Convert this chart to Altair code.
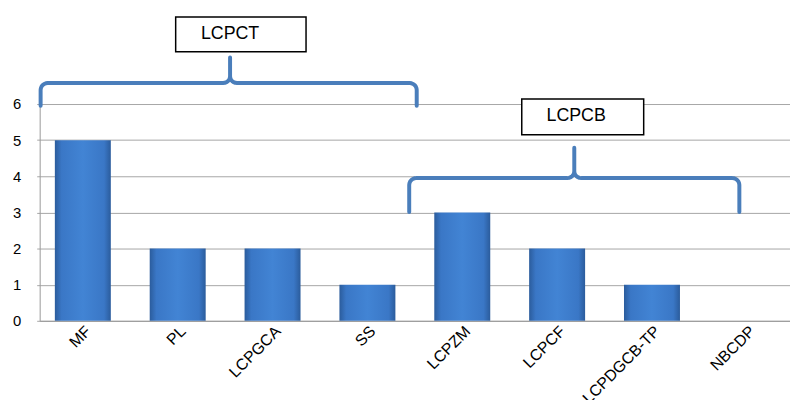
import math
import altair as alt
import pandas as pd

# ---- data ----
categories = ["MF", "PL", "LCPGCA", "SS", "LCPZM", "LCPCF", "LCPDGCB-TP", "NBCDP"]
values = [5, 2, 2, 1, 3, 2, 1, 0]

# group annotations (in category-index units along x, value units along y)
group_names = ["LCPCT", "LCPCB"]
group_x_start = [0.01, 3.94]
group_x_end = [4.02, 7.46]
group_x_mid = [2.03, 5.70]
group_y_end = [5.95, 3.01]
group_y_bar = [6.58, 3.95]
group_y_tip = [7.29, 4.79]
box_x1 = [1.45, 5.14]
box_x2 = [2.84, 6.44]
box_y1 = [7.45, 5.15]
box_y2 = [8.41, 6.14]
label_x = [2.03, 5.72]
label_y = [7.93, 5.68]

bars = pd.DataFrame({"cat": categories, "val": values})

# brace outlines
rx, ry = 0.075, 0.19
rows = []
for g in range(len(group_names)):
    x0, x1, xm = group_x_start[g], group_x_end[g], group_x_mid[g]
    ye, yb, yt = group_y_end[g], group_y_bar[g], group_y_tip[g]
    pts = [(x0, ye)]
    for a in range(180, 89, -15):
        r = math.radians(a)
        pts.append((x0 + rx + rx * math.cos(r), yb - ry + ry * math.sin(r)))
    for a in range(270, 361, 15):
        r = math.radians(a)
        pts.append((xm - rx + rx * math.cos(r), yb + ry + ry * math.sin(r)))
    pts.append((xm, yt))
    for a in range(180, 271, 15):
        r = math.radians(a)
        pts.append((xm + rx + rx * math.cos(r), yb + ry + ry * math.sin(r)))
    for a in range(90, -1, -15):
        r = math.radians(a)
        pts.append((x1 - rx + rx * math.cos(r), yb - ry + ry * math.sin(r)))
    pts.append((x1, ye))
    for i, (px, py) in enumerate(pts):
        rows.append({"g": group_names[g], "i": i, "x": px, "y": py})
braces = pd.DataFrame(rows)

boxes = pd.DataFrame({
    "g": group_names, "x1": box_x1, "x2": box_x2, "y1": box_y1, "y2": box_y2,
    "lx": label_x, "ly": label_y,
})

yscale = alt.Scale(domain=[0, 6], nice=False)
xq = alt.Scale(domain=[0, 8], nice=False, zero=False)
yaxis = alt.Axis(values=[0, 1, 2, 3, 4, 5, 6], grid=True, gridColor="#a6a6a6",
                 domainColor="#999999", tickColor="#a6a6a6", tickSize=3,
                 labelFontSize=15, labelColor="black", labelFont="Liberation Sans",
                 labelPadding=16, title=None)

bar_fill = alt.Gradient(
    gradient="linear", x1=0, x2=1, y1=0, y2=0,
    stops=[
        alt.GradientStop(color="#2b5c9c", offset=0),
        alt.GradientStop(color="#3a77c6", offset=0.12),
        alt.GradientStop(color="#4284d4", offset=0.5),
        alt.GradientStop(color="#3a77c6", offset=0.88),
        alt.GradientStop(color="#2b5c9c", offset=1),
    ],
)

bar_layer = alt.Chart(bars).mark_bar(fill=bar_fill, strokeWidth=0).encode(
    x=alt.X("cat:N", sort=categories, title=None,
            scale=alt.Scale(paddingInner=0.41, paddingOuter=0.16),
            axis=alt.Axis(labelAngle=-45, labelFontSize=16, labelColor="black",
                          labelFont="Liberation Sans", ticks=False, domainColor="#999999",
                          labelAlign="right", labelBaseline="top",
                          labelPadding=2, grid=False)),
    y=alt.Y("val:Q", scale=yscale, title=None, axis=yaxis),
)

brace_layer = alt.Chart(braces).mark_line(color="#4a7ebb", strokeWidth=4, strokeCap="round",
                                          strokeJoin="round", clip=False).encode(
    x=alt.X("x:Q", scale=xq, axis=None),
    y=alt.Y("y:Q", scale=yscale, title=None, axis=yaxis),
    detail="g:N",
    order="i:Q",
)

box_layer = alt.Chart(boxes).mark_rect(fill="white", stroke="black", strokeWidth=1.5, clip=False).encode(
    x=alt.X("x1:Q", scale=xq, axis=None), x2="x2:Q",
    y=alt.Y("y1:Q", scale=yscale, title=None, axis=yaxis), y2="y2:Q",
)

text_layer = alt.Chart(boxes).mark_text(fontSize=18, font="Liberation Sans", color="black",
                                        align="center", baseline="middle", clip=False).encode(
    x=alt.X("lx:Q", scale=xq, axis=None),
    y=alt.Y("ly:Q", scale=yscale, title=None, axis=yaxis),
    text="g:N",
)

chart = alt.layer(bar_layer, brace_layer, box_layer, text_layer).resolve_scale(
    x="independent"
).properties(
    width=758, height=219,
    autosize=alt.AutoSizeParams(type="none"),
    padding={"left": 32, "top": 95, "right": 0, "bottom": 78},
).configure_view(stroke=None)

chart.save("out.html", embed_options={"renderer": "svg", "actions": False})
